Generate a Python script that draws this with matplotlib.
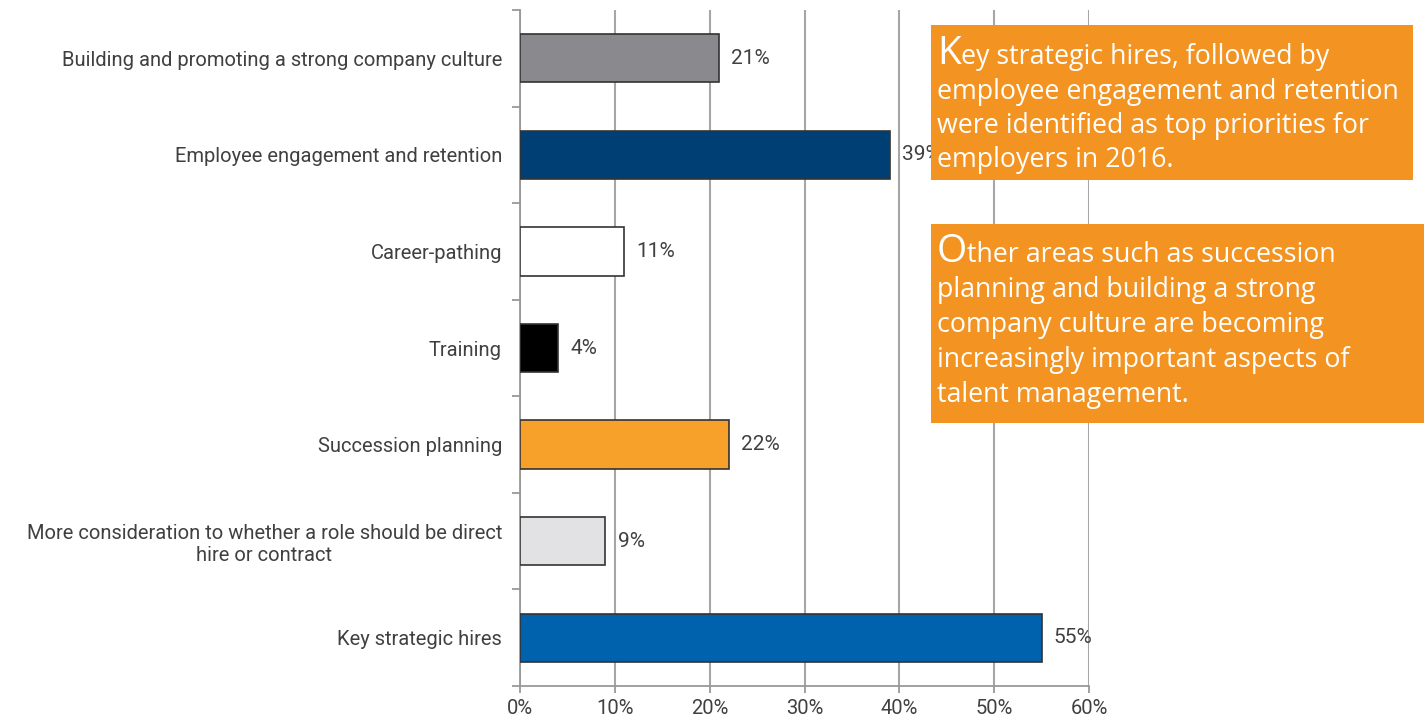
import matplotlib.pyplot as plt
from matplotlib.patches import Rectangle

categories = ["Building and promoting a strong company culture",
              "Employee engagement and retention",
              "Career-pathing",
              "Training",
              "Succession planning",
              "More consideration to whether a role should be direct\nhire or contract",
              "Key strategic hires"]
values = [21, 39, 11, 4, 22, 9, 55]
colors = ["#8a898e", "#003f73", "#ffffff", "#000000", "#f7a02a", "#e2e2e4", "#0062ad"]
xticks = [0, 10, 20, 30, 40, 50, 60]
xlabels = ["%d%%" % t for t in xticks]

box1_lines = ["Key strategic hires, followed by",
              "employee engagement and retention",
              "were identified as top priorities for",
              "employers in 2016."]
box2_lines = ["Other areas such as succession",
              "planning and building a strong",
              "company culture are becoming",
              "increasingly important aspects of",
              "talent management."]

FONT = ["Roboto", "DejaVu Sans"]
BOXFONT = ["Open Sans", "DejaVu Sans"]
TXT = "#404040"
GRID = "#a6a6a6"
ORANGE = "#f39422"

W, H = 1427, 724
fig = plt.figure(figsize=(W / 100, H / 100), dpi=100)
ax = fig.add_axes([520 / W, (H - 686) / H, 569 / W, 676 / H])

ypos = list(range(len(categories)))
ax.barh(ypos, values, height=0.5, color=colors, edgecolor="#333333",
        linewidth=1.2, zorder=3)
for y, v in zip(ypos, values):
    ax.text(v + 1.3, y, "%d%%" % v, va="center", ha="left",
            fontsize=15, color=TXT, family=FONT, zorder=4)

ax.set_xlim(0, 60)
ax.set_ylim(len(categories) - 0.5, -0.5)
ax.set_xticks(xticks)
ax.set_xticklabels(xlabels, fontsize=14.5, color=TXT, family=FONT)
ax.set_yticks(ypos)
ax.set_yticklabels(categories, fontsize=14.5, color=TXT, family=FONT,
                   multialignment="center")
ax.set_yticks([y - 0.5 for y in range(len(categories) + 1)], minor=True)
ax.tick_params(axis="y", which="major", length=0, pad=13)
ax.tick_params(axis="y", which="minor", length=6, color="#999999", width=1.3)
ax.tick_params(axis="x", length=5, color="#999999", width=1.3, pad=4)

ax.grid(axis="x", color=GRID, linewidth=1.5, zorder=0)
for s in ["top", "right"]:
    ax.spines[s].set_visible(False)
for s in ["left", "bottom"]:
    ax.spines[s].set_color("#999999")
    ax.spines[s].set_linewidth(1.3)


def text_box(x0, y0, x1, y1, lines, top, step, size):
    fig.add_artist(Rectangle((x0 / W, 1 - y1 / H), (x1 - x0) / W, (y1 - y0) / H,
                             transform=fig.transFigure, facecolor=ORANGE,
                             edgecolor="none", zorder=5))
    renderer = fig.canvas.get_renderer()
    for i, line in enumerate(lines):
        yy = 1 - (top + i * step) / H
        if i == 0:
            cap = fig.text(937 / W, yy, line[0], fontsize=size * 1.45,
                           color="white", family=BOXFONT, va="baseline",
                           zorder=6)
            bb = cap.get_window_extent(renderer)
            fig.text(bb.x1 / W, yy, line[1:], fontsize=size, color="white",
                     family=BOXFONT, va="baseline", zorder=6)
        else:
            fig.text(937 / W, yy, line, fontsize=size, color="white",
                     family=BOXFONT, va="baseline", zorder=6)


text_box(931, 25, 1413, 180, box1_lines, 64, 34.5, 19.3)
text_box(931, 224, 1424, 423, box2_lines, 262, 35, 19.3)

fig.savefig("out.png", dpi=100)
